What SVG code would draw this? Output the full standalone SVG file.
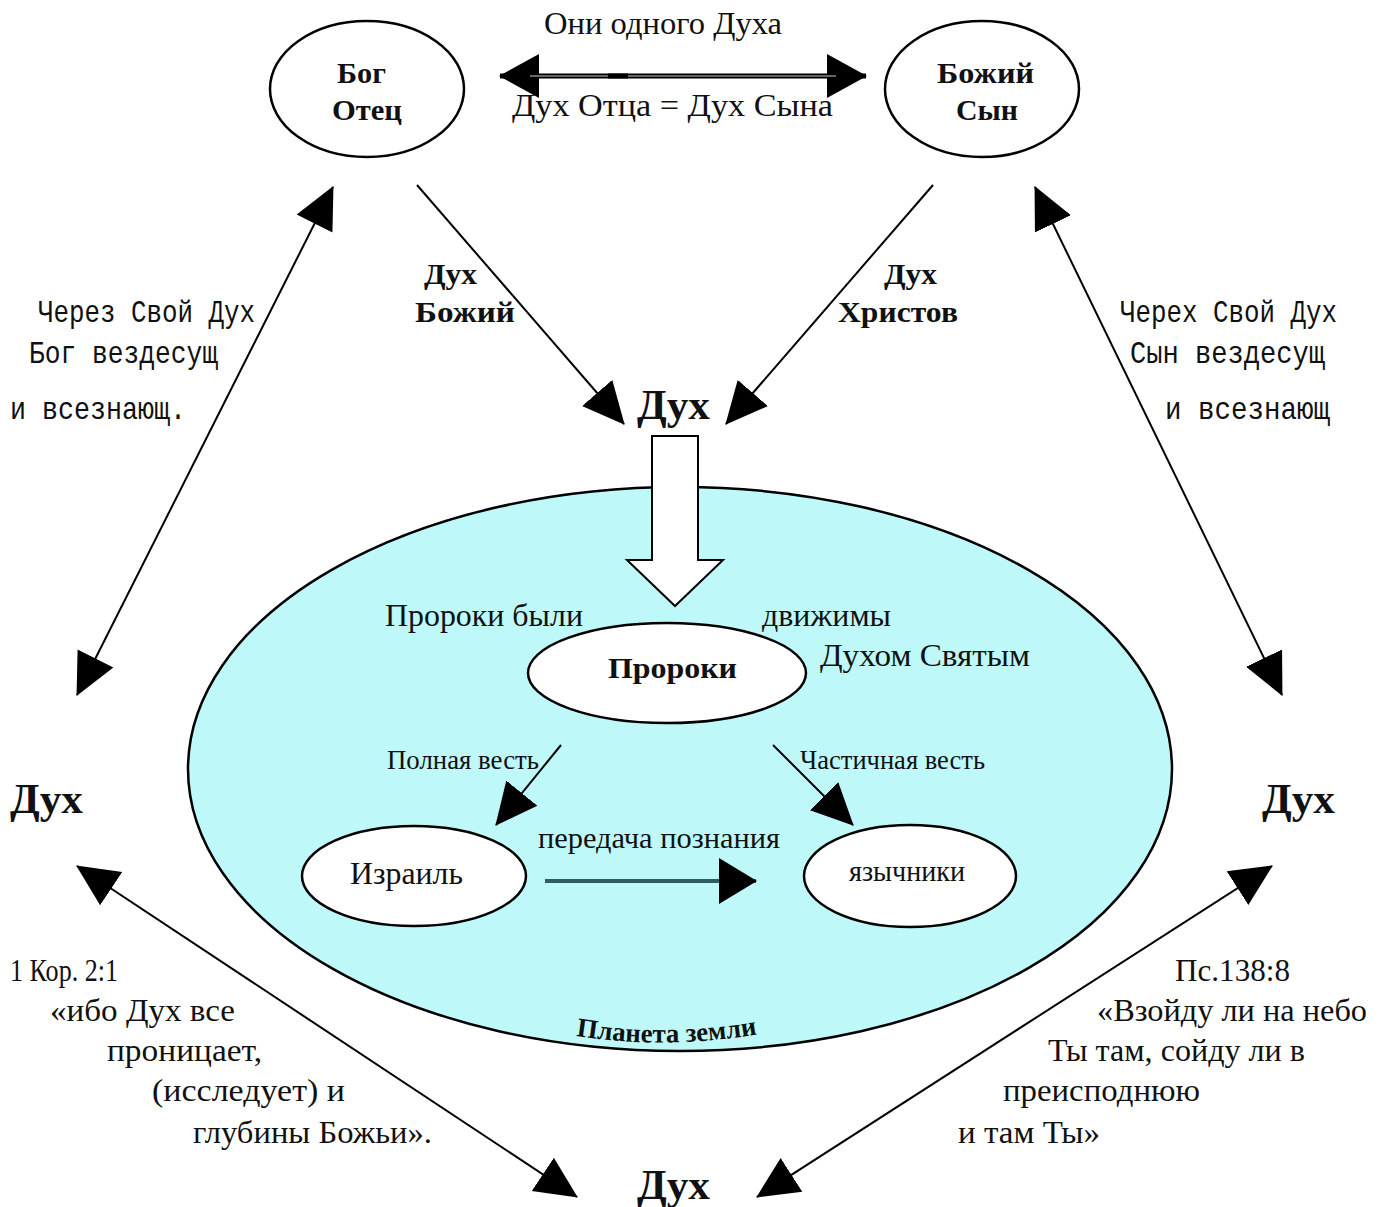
<svg xmlns="http://www.w3.org/2000/svg" width="1387" height="1207" viewBox="0 0 1387 1207">
<style>
  .t{font-family:"Liberation Serif","DejaVu Serif",serif;fill:#111;}
  .b{font-weight:bold;}
  .m{font-family:"Liberation Mono","DejaVu Sans Mono",monospace;fill:#111;}
  .node{fill:#fff;stroke:#000;stroke-width:2.5;}
  .ln{stroke:#000;stroke-width:2;fill:none;}
</style>
<defs>
  <marker id="ah" markerUnits="userSpaceOnUse" markerWidth="42" markerHeight="42" viewBox="0 0 42 42" refX="41" refY="21" orient="auto-start-reverse">
    <path d="M0,1 L42,21 L0,41 z" fill="#000"/>
  </marker>
  <marker id="ahH" markerUnits="userSpaceOnUse" markerWidth="40" markerHeight="44" viewBox="0 0 40 44" refX="39" refY="22" orient="auto-start-reverse">
    <path d="M0,0 L40,22 L0,44 z" fill="#000"/>
  </marker>
  <marker id="ahT" markerUnits="userSpaceOnUse" markerWidth="38" markerHeight="46" viewBox="0 0 38 46" refX="37" refY="23" orient="auto">
    <path d="M0,0 L38,23 L0,46 z" fill="#000"/>
  </marker>
  <path id="arc" d="M576,1036 Q667,1050 760,1034"/>
</defs>
<rect width="1387" height="1207" fill="#fff"/>

<g id="planet">
  <ellipse cx="680" cy="769" rx="492" ry="282" fill="#bff8f8" stroke="#000" stroke-width="2.5"/>
  <text class="t b" font-size="27"><textPath href="#arc" textLength="182" lengthAdjust="spacingAndGlyphs">Планета земли</textPath></text>
</g>

<g id="connectors">
  <line x1="500" y1="76" x2="866" y2="76" stroke="#000" stroke-width="5" marker-start="url(#ahH)" marker-end="url(#ahH)"/>
  <line x1="530" y1="76" x2="836" y2="76" stroke="#888" stroke-width="1.5"/>
  <line x1="608" y1="76" x2="628" y2="76" stroke="#000" stroke-width="5"/>
  <line class="ln" x1="417" y1="185" x2="624" y2="424" marker-end="url(#ah)"/>
  <line class="ln" x1="933" y1="185" x2="726" y2="424" marker-end="url(#ah)"/>
  <line class="ln" x1="333" y1="187" x2="77" y2="695" marker-start="url(#ah)" marker-end="url(#ah)"/>
  <line class="ln" x1="1035" y1="187" x2="1282" y2="695" marker-start="url(#ah)" marker-end="url(#ah)"/>
  <line class="ln" x1="77" y1="866" x2="577" y2="1197" marker-start="url(#ah)" marker-end="url(#ah)"/>
  <line class="ln" x1="1272" y1="866" x2="757" y2="1197" marker-start="url(#ah)" marker-end="url(#ah)"/>
  <line class="ln" x1="561" y1="745" x2="496" y2="825" marker-end="url(#ah)"/>
  <line class="ln" x1="773" y1="745" x2="853" y2="825" marker-end="url(#ah)"/>
  <line x1="545" y1="881" x2="756" y2="881" stroke="#2f5d5d" stroke-width="4" marker-end="url(#ahT)"/>
  <polygon points="652,436 698,436 698,560 723,560 675,606 627,560 652,560" fill="#fff" stroke="#000" stroke-width="2"/>
</g>

<g id="top-labels">
  <text class="t" x="544" y="34" font-size="31" textLength="238" lengthAdjust="spacingAndGlyphs">Они одного Духа</text>
  <text class="t" x="512" y="116" font-size="31" textLength="321" lengthAdjust="spacingAndGlyphs">Дух Отца =  Дух Сына</text>
</g>

<g id="node-father">
  <ellipse class="node" cx="367" cy="89" rx="97" ry="68"/>
  <text class="t b" x="337" y="83" font-size="29" textLength="49" lengthAdjust="spacingAndGlyphs">Бог</text>
  <text class="t b" x="332" y="120" font-size="29" textLength="70" lengthAdjust="spacingAndGlyphs">Отец</text>
</g>

<g id="node-son">
  <ellipse class="node" cx="982" cy="89" rx="97" ry="68"/>
  <text class="t b" x="937" y="83" font-size="29" textLength="97" lengthAdjust="spacingAndGlyphs">Божий</text>
  <text class="t b" x="956" y="120" font-size="29" textLength="62" lengthAdjust="spacingAndGlyphs">Сын</text>
</g>

<g id="spirit-labels">
  <text class="t b" x="424" y="284" font-size="29" textLength="53" lengthAdjust="spacingAndGlyphs">Дух</text>
  <text class="t b" x="415" y="322" font-size="29" textLength="100" lengthAdjust="spacingAndGlyphs">Божий</text>
  <text class="t b" x="884" y="284" font-size="29" textLength="53" lengthAdjust="spacingAndGlyphs">Дух</text>
  <text class="t b" x="838" y="322" font-size="29" textLength="120" lengthAdjust="spacingAndGlyphs">Христов</text>
</g>

<g id="node-spirit-center">
  <text class="t b" x="637" y="419" font-size="42" textLength="73" lengthAdjust="spacingAndGlyphs">Дух</text>
</g>
<g id="node-spirit-left">
  <text class="t b" x="10" y="813" font-size="42" textLength="73" lengthAdjust="spacingAndGlyphs">Дух</text>
</g>
<g id="node-spirit-right">
  <text class="t b" x="1262" y="813" font-size="42" textLength="73" lengthAdjust="spacingAndGlyphs">Дух</text>
</g>
<g id="node-spirit-bottom">
  <text class="t b" x="637" y="1199" font-size="42" textLength="73" lengthAdjust="spacingAndGlyphs">Дух</text>
</g>

<g id="left-note">
  <text class="m" x="38" y="322" font-size="32" textLength="217" lengthAdjust="spacingAndGlyphs">Через Свой Дух</text>
  <text class="m" x="29" y="363" font-size="32" textLength="189" lengthAdjust="spacingAndGlyphs">Бог вездесущ</text>
  <text class="m" x="10" y="419" font-size="32" textLength="176" lengthAdjust="spacingAndGlyphs">и всезнающ.</text>
</g>

<g id="right-note">
  <text class="m" x="1120" y="322" font-size="32" textLength="217" lengthAdjust="spacingAndGlyphs">Черех Свой Дух</text>
  <text class="m" x="1130" y="363" font-size="32" textLength="195" lengthAdjust="spacingAndGlyphs">Сын вездесущ</text>
  <text class="m" x="1165" y="419" font-size="32" textLength="165" lengthAdjust="spacingAndGlyphs">и всезнающ</text>
</g>

<g id="prophets-note">
  <text class="t" x="385" y="626" font-size="31" textLength="198" lengthAdjust="spacingAndGlyphs">Пророки были</text>
  <text class="t" x="762" y="626" font-size="31" textLength="129" lengthAdjust="spacingAndGlyphs">движимы</text>
  <text class="t" x="820" y="666" font-size="31" textLength="210" lengthAdjust="spacingAndGlyphs">Духом Святым</text>
</g>

<g id="node-prophets">
  <ellipse class="node" cx="667" cy="673" rx="139" ry="50"/>
  <text class="t b" x="608" y="678" font-size="30" textLength="129" lengthAdjust="spacingAndGlyphs">Пророки</text>
</g>

<g id="message-labels">
  <text class="t" x="387" y="769" font-size="27" textLength="152" lengthAdjust="spacingAndGlyphs">Полная весть</text>
  <text class="t" x="800" y="769" font-size="27" textLength="185" lengthAdjust="spacingAndGlyphs">Частичная весть</text>
  <text class="t" x="538" y="848" font-size="30" textLength="242" lengthAdjust="spacingAndGlyphs">передача познания</text>
</g>

<g id="node-israel">
  <ellipse class="node" cx="414" cy="876" rx="112" ry="50"/>
  <text class="t" x="350" y="884" font-size="31" textLength="113" lengthAdjust="spacingAndGlyphs">Израиль</text>
</g>

<g id="node-gentiles">
  <ellipse class="node" cx="910" cy="876" rx="106" ry="51"/>
  <text class="t" x="849" y="881" font-size="29" textLength="116" lengthAdjust="spacingAndGlyphs">язычники</text>
</g>

<g id="left-quote">
  <text class="t" x="10" y="981" font-size="31" textLength="108" lengthAdjust="spacingAndGlyphs">1 Кор. 2:1</text>
  <text class="t" x="50" y="1021" font-size="31" textLength="185" lengthAdjust="spacingAndGlyphs">«ибо Дух все</text>
  <text class="t" x="107" y="1061" font-size="31" textLength="155" lengthAdjust="spacingAndGlyphs">проницает,</text>
  <text class="t" x="152" y="1101" font-size="31" textLength="193" lengthAdjust="spacingAndGlyphs">(исследует) и</text>
  <text class="t" x="193" y="1143" font-size="31" textLength="239" lengthAdjust="spacingAndGlyphs">глубины Божьи».</text>
</g>

<g id="right-quote">
  <text class="t" x="1175" y="981" font-size="31" textLength="115" lengthAdjust="spacingAndGlyphs">Пс.138:8</text>
  <text class="t" x="1097" y="1021" font-size="31" textLength="270" lengthAdjust="spacingAndGlyphs">«Взойду ли на небо</text>
  <text class="t" x="1048" y="1061" font-size="31" textLength="257" lengthAdjust="spacingAndGlyphs">Ты там, сойду ли в</text>
  <text class="t" x="1003" y="1101" font-size="31" textLength="197" lengthAdjust="spacingAndGlyphs">преисподнюю</text>
  <text class="t" x="958" y="1143" font-size="31" textLength="142" lengthAdjust="spacingAndGlyphs">и там Ты»</text>
</g>
</svg>
